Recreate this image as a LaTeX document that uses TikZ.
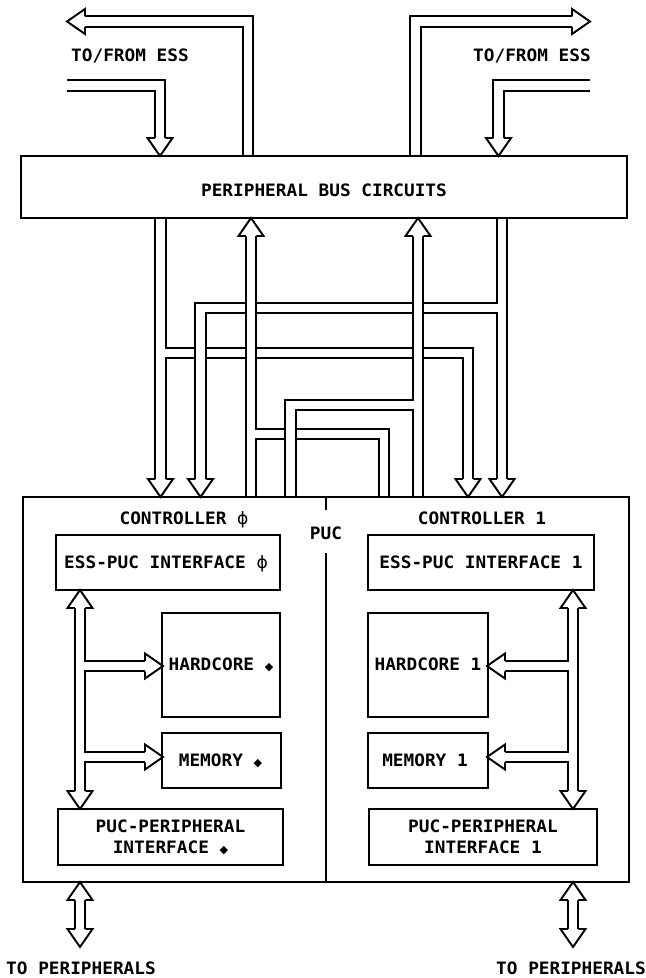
\documentclass[tikz,border=0pt]{standalone}
\usepackage{fontspec}
\usepackage{graphicx}
\newfontfamily\plotfont[FakeStretch=1.04]{DejaVu Sans Mono Bold}
\newfontfamily\symfont{DejaVu Sans}
\usetikzlibrary{fit,calc}
\newcommand\pf{\plotfont\fontsize{12.8}{15.75}\selectfont}
\newcommand\phisym{{\symfont ϕ}}
\newcommand\diasym{{\symfont\scalebox{0.65}{◆}}}
\def\lw{1.45pt}
\tikzset{
  box/.style={draw, line width=\lw, inner sep=0pt},
  lbl/.style={inner sep=0pt, font=\pf, align=center, text height=9.2pt, text depth=0pt},
  busout/.style={line width=9.325pt, line join=miter, black},
  busin/.style={line width=6.425pt, line join=miter, white},
  bhead/.pic={\filldraw[fill=white, draw=black, line width=\lw, line join=miter]
      (-18,5.25) -- (-18,12.5) -- (0,0) -- (-18,-12.5) -- (-18,-5.25);}
}
\newcommand\bus[1]{\draw[busout] #1; \draw[busin] #1;}
\begin{document}
\begin{tikzpicture}[x=0.75pt,y=-0.75pt]
\useasboundingbox (0,0) rectangle (646,978);
% ---- named corner coordinates of the boxes
\coordinate (pbcA) at (21,156);  \coordinate (pbcB) at (627,218);
\coordinate (pucA) at (23,497);  \coordinate (pucB) at (629,882);
% ---- bus columns
\coordinate (xTLo) at (248,0);   \coordinate (xTLi) at (160,0);
\coordinate (xTRo) at (415.5,0); \coordinate (xTRi) at (498.5,0);
\coordinate (xA) at (160.5,0);   \coordinate (xA2) at (468,0);
\coordinate (xD) at (502,0);     \coordinate (xD2) at (200.5,0);
\coordinate (xB) at (251,0);     \coordinate (xB2) at (384,0);
\coordinate (xE) at (418,0);     \coordinate (xE2) at (290.5,0);
\coordinate (xL) at (80,0);      \coordinate (xR) at (573,0);
% ---- free ends of the ESS buses
\coordinate (essoutL) at (67,21.5);  \coordinate (essinL) at (67,85.5);
\coordinate (essoutR) at (590,21.5); \coordinate (essinR) at (590,85.5);
\coordinate (perL) at (80,947);      \coordinate (perR) at (573,947);

% ================= buses (drawn before the boxes) =================
% top left: out to ESS
\bus{(xTLo |- pbcA) -- (xTLo |- essoutL) -- ($(essoutL)+(12,0)$)}
% top left: in from ESS
\bus{(essinL) -- (xTLi |- essinL) -- ($(xTLi |- pbcA)+(0,-12)$)}
% top right: out to ESS
\bus{(xTRo |- pbcA) -- (xTRo |- essoutR) -- ($(essoutR)+(-12,0)$)}
% top right: in from ESS
\bus{(essinR) -- (xTRi |- essinR) -- ($(xTRi |- pbcA)+(0,-12)$)}
% net A : PBC -> both controllers
\bus{(xA |- pbcB) -- ($(xA |- pucA)+(0,-12)$) (xA |- 0,353) -- (xA2 |- 0,353) -- ($(xA2 |- pucA)+(0,-12)$)}
% net D : PBC -> both controllers
\bus{(xD |- pbcB) -- ($(xD |- pucA)+(0,-12)$) (xD |- 0,308) -- (xD2 |- 0,308) -- ($(xD2 |- pucA)+(0,-12)$)}
% net B : both controllers -> PBC
\bus{(xB |- pucA) -- ($(xB |- pbcB)+(0,12)$) (xB |- 0,434) -- (xB2 |- 0,434) -- (xB2 |- pucA)}
% net E : both controllers -> PBC
\bus{(xE |- pucA) -- ($(xE |- pbcB)+(0,12)$) (xE |- 0,405) -- (xE2 |- 0,405) -- (xE2 |- pucA)}
% internal buses controller 0
\bus{(xL |- 0,602) -- (xL |- 0,797) (xL |- 0,666) -- (151,666) (xL |- 0,757) -- (151,757)}
% internal buses controller 1
\bus{(xR |- 0,602) -- (xR |- 0,797) (xR |- 0,666) -- (499,666) (xR |- 0,757) -- (499,757)}
% to peripherals
\bus{(xL |- 0,894) -- ($(perL)+(0,-12)$)}
\bus{(xR |- 0,894) -- ($(perR)+(0,-12)$)}

% ================= arrow heads =================
\pic[rotate=180] at (essoutL) {bhead};
\pic[rotate=-90] at (xTLi |- pbcA) {bhead};
\pic at (essoutR) {bhead};
\pic[rotate=-90] at (xTRi |- pbcA) {bhead};
\pic[rotate=-90] at (xA |- pucA) {bhead};
\pic[rotate=-90] at (xA2 |- pucA) {bhead};
\pic[rotate=-90] at (xD |- pucA) {bhead};
\pic[rotate=-90] at (xD2 |- pucA) {bhead};
\pic[rotate=90] at (xB |- pbcB) {bhead};
\pic[rotate=90] at (xE |- pbcB) {bhead};
\pic[rotate=90] at (xL |- 0,590) {bhead};
\pic[rotate=-90] at (xL |- 0,809) {bhead};
\pic at (163,666) {bhead};
\pic at (163,757) {bhead};
\pic[rotate=90] at (xR |- 0,590) {bhead};
\pic[rotate=-90] at (xR |- 0,809) {bhead};
\pic[rotate=180] at (487,666) {bhead};
\pic[rotate=180] at (487,757) {bhead};
\pic[rotate=90] at (xL |- pucB) {bhead};
\pic[rotate=-90] at (perL) {bhead};
\pic[rotate=90] at (xR |- pucB) {bhead};
\pic[rotate=-90] at (perR) {bhead};

% ================= boxes =================
\node[box, fit=(pbcA)(pbcB)] (pbc) {};
\node[lbl] (pbct) at ($(pbc.center)+(0,3)$) {PERIPHERAL BUS CIRCUITS};
\node[box, fit=(pucA)(pucB)] (puc) {};
\coordinate (divx) at (326,0);
\draw[line width=\lw] (divx |- puc.north) -- (divx |- 0,510);
\draw[line width=\lw] (divx |- 0,553) -- (divx |- puc.south);
\node[lbl] (puclbl) at (326,533) {PUC};
\node[lbl] (ctl0) at (184,518) {CONTROLLER \phisym};
\node[lbl] (ctl1) at (482,518) {CONTROLLER 1};

\coordinate (e0a) at (56,535);  \coordinate (e0b) at (280,590);
\coordinate (e1a) at (368,535); \coordinate (e1b) at (594,590);
\node[box, fit=(e0a)(e0b)] (ess0) {};
\node[lbl] (ess0t) at ($(ess0.center)+(-2,0)$) {ESS-PUC INTERFACE \phisym};
\node[box, fit=(e1a)(e1b)] (ess1) {};
\node[lbl] (ess1t) at (ess1.center) {ESS-PUC INTERFACE 1};

\coordinate (h0a) at (162,613); \coordinate (h0b) at (280,717);
\coordinate (h1a) at (368,613); \coordinate (h1b) at (488,717);
\node[box, fit=(h0a)(h0b)] (hc0) {};
\node[lbl] (hc0t) at (hc0.center |- 0,664) {HARDCORE \diasym};
\node[box, fit=(h1a)(h1b)] (hc1) {};
\node[lbl] (hc1t) at (hc1.center |- 0,664) {HARDCORE 1};

\coordinate (m0a) at (162,733); \coordinate (m0b) at (281,788);
\coordinate (m1a) at (368,733); \coordinate (m1b) at (488,788);
\node[box, fit=(m0a)(m0b)] (mem0) {};
\node[lbl] (mem0t) at ($(mem0.center)+(-1,0)$) {MEMORY \diasym};
\node[box, fit=(m1a)(m1b)] (mem1) {};
\node[lbl] (mem1t) at ($(mem1.center)+(-3,0)$) {MEMORY 1};

\coordinate (p0a) at (58,809);  \coordinate (p0b) at (283,865);
\coordinate (p1a) at (369,809); \coordinate (p1b) at (597,865);
\node[box, fit=(p0a)(p0b)] (ppi0) {};
\node[lbl] (ppi0ta) at ($(ppi0.center)+(0,-10.5)$) {PUC-PERIPHERAL};
\node[lbl] (ppi0tb) at ($(ppi0.center)+(0,10.5)$) {INTERFACE \diasym};
\node[box, fit=(p1a)(p1b)] (ppi1) {};
\node[lbl] (ppi1ta) at ($(ppi1.center)+(0,-10.5)$) {PUC-PERIPHERAL};
\node[lbl] (ppi1tb) at ($(ppi1.center)+(0,10.5)$) {INTERFACE 1};

% ================= free labels =================
\node[lbl] (tfe0) at (130,55) {TO/FROM ESS};
\node[lbl] (tfe1) at (532,55) {TO/FROM ESS};
\node[lbl] (tp0) at (81,968) {TO PERIPHERALS};
\node[lbl] (tp1) at (571,968) {TO PERIPHERALS};
\end{tikzpicture}
\end{document}
